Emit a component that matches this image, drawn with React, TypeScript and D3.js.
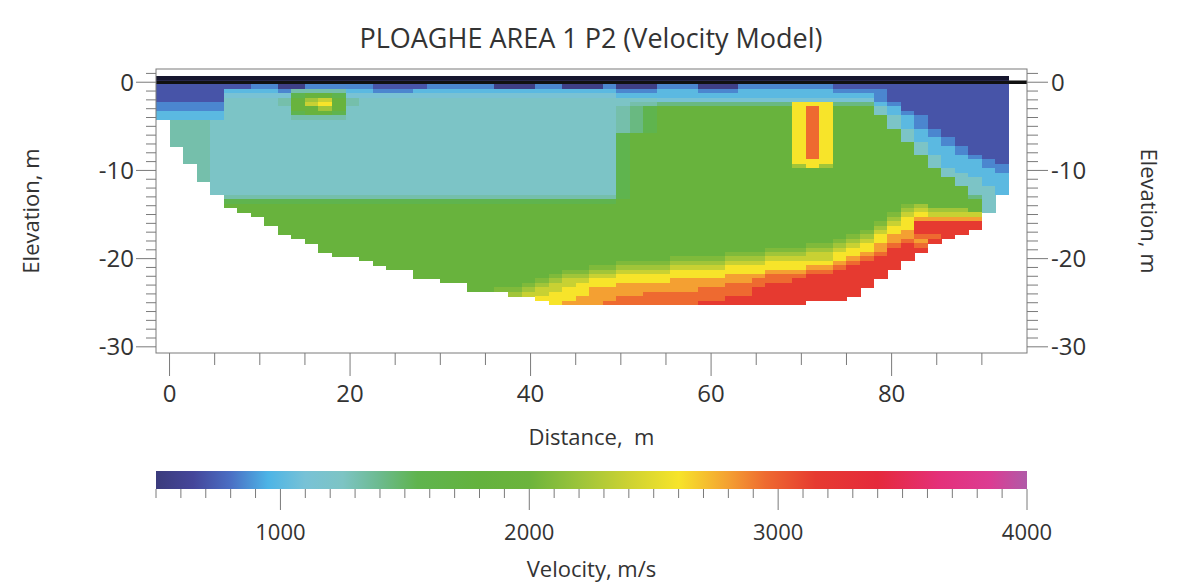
import React from 'react';
import * as d3 from 'd3';

// ---------------- data ----------------
const chartTitle = 'PLOAGHE AREA 1 P2 (Velocity Model)';
const distanceTicks = [0, 20, 40, 60, 80];
const elevationTicks = [0, -10, -20, -30];
const velocityTicks = [1000, 2000, 3000, 4000];

// colour scale of the velocity bar (m/s -> colour)
const colorStopVelocities = [300, 500, 650, 800, 950, 1100, 1250, 1400, 1550, 1800, 2000, 2200, 2400, 2600, 2800, 2950, 3150, 3400, 3650, 3850, 4000];
const colorStopColors = ['#16162e', '#3b3b7c', '#45469a', '#4a6fc4', '#4db4e6', '#78c2d6', '#7dc4c4', '#6cba8e', '#5fb44e', '#64b23e', '#6cb43c', '#9cc43a', '#cdd232', '#f7e42a', '#f4a032', '#ee6a30', '#e63a30', '#e52a3c', '#e4307a', '#dc3c92', '#b05aa8'];

// cell codes used in the model rows and their velocity (m/s)
const cellCodes = ['K', 'A', 'B', 'C', 'D', 'E', 'T', 'U', 'V', 'W', 'G', 'H', 'I', 'J', 'Y', 'O', 'P', 'R'];
const cellVelocities = [300, 550, 700, 850, 1000, 1120, 1230, 1320, 1430, 1550, 1900, 2080, 2220, 2380, 2600, 2800, 2950, 3150];

// model grid: columns of 1.5 m starting at -1.5 m, rows of 0.5 m starting at +0.75 m
const firstColumnDistance = -1.5;
const columnWidth = 1.5;
const topElevation = 0.75;
const rowHeight = 0.5;

// number of filled rows in each column (model bottom)
const cellsPerColumn = [
  10, 16, 20, 24, 27, 30, 31, 32, 34, 36, 37, 38, 40, 41, 41, 42, 43, 44, 44, 46,
  46, 47, 47, 49, 49, 49, 50, 50, 51,
  52, 52, 52, 52, 52, 52, 52, 52, 52, 52, 52, 52, 52, 52, 52, 52, 52, 52, 52,
  51, 51, 51, 50, 48, 46, 44, 42, 40, 38, 37, 36, 35, 31, 27,
];

// run-length coded velocity rows (count + code), top row first
const modelRows = [
  '63K',
  '63A',
  '7B 2C 2A 5C 4B 5C 3A 2C 3A 1C 3A 3C 3A 7C 13B',
  '5B 4D 1C 4U 2D 3C 15D 3C 3D 3C 7D 4C 9B',
  '5B 5E 1W 2G 1W 20E 19D 1C 9B',
  '5B 4T 1U 1G 1I 1J 1G 1U 22T 16E 1C 9B',
  '5C 4T 1U 1G 1J 1Y 1G 1U 20T 2U 10V 3Y 3V 1D 1C 8B',
  '5C 5T 2G 1I 1G 20T 1U 1V 1W 10G 1Y 1P 1Y 3G 1T 1D 8B',
  '5D 5T 1W 2G 1W 20T 1U 1V 1W 10G 1Y 1P 1Y 3G 1T 1D 1C 7B',
  '5D 5T 4U 20T 1U 1V 1W 10G 1Y 1P 1Y 4G 1T 1D 1C 6B',
  '4U 30T 1U 1V 1W 10G 1Y 1P 1Y 4G 1T 1D 1C 6B',
  '4U 30T 1U 1V 1W 10G 1Y 1P 1Y 4G 1T 1D 1C 6B',
  '4U 30T 1U 1V 1W 10G 1Y 1P 1Y 5G 1T 1D 1C 5B',
  '4U 30T 1W 12G 1Y 1P 1Y 5G 1T 1D 1C 5B',
  '4U 30T 1W 12G 1Y 1P 1Y 5G 1T 2D 1C 4B',
  '4U 30T 1W 12G 1Y 1P 1Y 6G 1T 1D 1C 4B',
  '4U 30T 1W 12G 1Y 1P 1Y 6G 1T 2D 1C 3B',
  '4U 30T 1W 12G 1Y 1P 1Y 6G 1T 2D 1C 3B',
  '4U 30T 1W 12G 1Y 1P 1Y 7G 1T 2D 1C 2B',
  '4U 30T 1W 12G 3Y 7G 1T 3D 1C 1B',
  '4U 30T 1W 12G 1I 1Y 1I 7G 1T 3D 2C',
  '4U 30T 1W 23G 1T 3D 1C',
  '4U 30T 1W 23G 2T 3D',
  '4U 30T 1W 24G 2T 2D',
  '4U 30T 1W 24G 2T 2D',
  '4U 30T 1W 25G 2T 1D',
  '4U 30T 1W 25G 2T 1D',
  '34U 1W 25G 1V 2T',
  '34W 27G 2T',
  '55G 1H 1I 4G 2T',
  '55G 1I 1J 3I 1G 2T',
  '54G 1H 1J 1Y 4J 2T',
  '54G 1I 1Y 5O 2T',
  '53G 1H 1J 1Y 5R 2G',
  '53G 1I 2Y 5R 2G',
  '52G 1H 1J 1Y 1O 5R 2G',
  '51G 1H 1I 1Y 2O 2P 1R 4G',
  '50G 1H 1I 1J 1Y 1O 1P 1O 1R 5G',
  '48G 2H 1I 1J 1Y 1O 1P 1R 1P 6G',
  '45G 3H 2I 1J 2Y 1O 3R 6G',
  '42G 3H 3I 2J 2Y 1O 1P 2R 7G',
  '38G 4H 3I 5J 1Y 1O 1P 3R 7G',
  '34G 4H 4I 3J 5Y 1O 1P 3R 8G',
  '32G 2H 4I 4J 6Y 2O 1P 4R 8G',
  '30G 2H 2I 4J 7Y 3O 2P 4R 9G',
  '29G 1H 2I 2J 8Y 3O 3P 6R 9G',
  '28G 1H 1I 2J 6Y 6O 3P 6R 10G',
  '27G 1H 1I 2J 3Y 8O 3P 8R 10G',
  '25G 2H 1I 2J 2Y 8O 4P 8R 11G',
  '26G 1I 2J 3Y 4O 8P 8R 11G',
  '28G 3Y 3O 8P 9R 12G',
  '29G 1Y 3O 7P 8R 15G',
];

// ground surface line (distance, elevation)
const surfaceDistance = [-1.5, 95];
const surfaceElevation = [0, 0];

// ---------------- helpers ----------------
function expandRow(spec: string): string {
  return spec
    .trim()
    .split(/\s+/)
    .map((tok) => {
      const m = tok.match(/^(\d+)([A-Z])$/);
      return m ? m[2].repeat(parseInt(m[1], 10)) : '';
    })
    .join('');
}

const FONT = "'Open Sans', 'DejaVu Sans', sans-serif";
const TEXT = '#333333';
const AXIS = '#7a7a7a';

export default function App() {
  const W = 1178;
  const H = 583;
  const plotL = 156, plotR = 1027, plotT = 69, plotB = 353;

  const x = d3.scaleLinear().domain([-1.5, 95]).range([plotL, plotR]);
  const y = d3.scaleLinear().domain([1.5, -30.7]).range([plotT, plotB]);
  const color = d3
    .scaleLinear<string>()
    .domain(colorStopVelocities)
    .range(colorStopColors)
    .interpolate(d3.interpolateRgb)
    .clamp(true);
  const cbScale = d3.scaleLinear().domain([500, 4000]).range([plotL, plotR]);

  const codeToVelocity = new Map<string, number>(cellCodes.map((c, i) => [c, cellVelocities[i]]));

  const cells: { key: string; x: number; y: number; w: number; h: number; fill: string }[] = [];
  modelRows.forEach((spec, r) => {
    const row = expandRow(spec);
    for (let c = 0; c < cellsPerColumn.length; c++) {
      if (r >= cellsPerColumn[c]) continue;
      const v = codeToVelocity.get(row[c]);
      if (v == null) continue;
      const d0 = firstColumnDistance + c * columnWidth;
      const d1 = d0 + columnWidth;
      const e0 = topElevation - r * rowHeight;
      const e1 = e0 - rowHeight;
      const x0 = x(d0), x1 = x(d1), y0 = y(e0), y1 = y(e1);
      cells.push({ key: `${r}-${c}`, x: x0, y: y0, w: x1 - x0 + 0.5, h: y1 - y0 + 0.5, fill: color(v) });
    }
  });

  const surfaceLine = d3
    .line<number>()
    .x((_, i) => x(surfaceDistance[i]))
    .y((_, i) => y(surfaceElevation[i]))(surfaceDistance);

  const yMinor = d3.range(-30, 2);
  const xMinor = d3.range(0, 91, 5);
  const vMinor = d3.range(500, 4001, 100);

  const gradStops = colorStopVelocities
    .map((v, i) => ({ v, c: colorStopColors[i] }))
    .filter((s) => s.v >= 500 && s.v <= 4000);

  const cbTop = 471, cbBot = 489;
  const yMid = (plotT + plotB) / 2;

  return (
    <svg
      width={W}
      height={H}
      viewBox={`0 0 ${W} ${H}`}
      style={{ position: 'absolute', left: 0, top: 0, background: '#fff' }}
      fontFamily={FONT}
    >
      <defs>
        <linearGradient id="vbar" x1="0" x2="1" y1="0" y2="0">
          {gradStops.map((s) => (
            <stop key={s.v} offset={(s.v - 500) / 3500} stopColor={s.c} />
          ))}
        </linearGradient>
      </defs>
      <rect x={0} y={0} width={W} height={H} fill="#ffffff" />

      {/* title */}
      <text x={591} y={48} textAnchor="middle" fontSize={27} fill={TEXT}>
        {chartTitle}
      </text>

      {/* model cells */}
      <g shapeRendering="crispEdges">
        {cells.map((c) => (
          <rect key={c.key} x={c.x} y={c.y} width={c.w} height={c.h} fill={c.fill} />
        ))}
      </g>

      {/* surface */}
      <path d={surfaceLine || ''} stroke="#111" strokeWidth={3.5} fill="none" />

      {/* frame */}
      <rect x={plotL} y={plotT} width={plotR - plotL} height={plotB - plotT} fill="none" stroke={AXIS} strokeWidth={1} />

      {/* left & right elevation ticks */}
      {yMinor.map((e) => {
        const major = e % 10 === 0;
        return (
          <g key={`yt${e}`} stroke={AXIS} strokeWidth={1}>
            <line x1={plotL - (major ? 20 : 10)} x2={plotL} y1={y(e)} y2={y(e)} />
            <line x1={plotR} x2={plotR + (major ? 21 : 11)} y1={y(e)} y2={y(e)} />
          </g>
        );
      })}
      {elevationTicks.map((e) => (
        <g key={`yl${e}`}>
          <text x={plotL - 22} y={y(e)} dy="0.36em" textAnchor="end" fontSize={24} fill={TEXT}>
            {e}
          </text>
          <text x={plotR + 24} y={y(e)} dy="0.36em" textAnchor="start" fontSize={24} fill={TEXT}>
            {e}
          </text>
        </g>
      ))}

      {/* distance ticks */}
      {xMinor.map((d) => {
        const major = d % 20 === 0;
        return <line key={`xt${d}`} x1={x(d)} x2={x(d)} y1={plotB} y2={plotB + (major ? 23 : 12)} stroke={AXIS} strokeWidth={1} />;
      })}
      {distanceTicks.map((d) => (
        <text key={`xl${d}`} x={x(d)} y={402} textAnchor="middle" fontSize={24} fill={TEXT}>
          {d}
        </text>
      ))}

      {/* axis titles */}
      <text x={(plotL + plotR) / 2} y={445} textAnchor="middle" fontSize={22} fill={TEXT} style={{ whiteSpace: 'pre' }}>
        {'Distance,  m'}
      </text>
      <text transform={`translate(31,${yMid}) rotate(-90)`} textAnchor="middle" dy="0.36em" fontSize={22} fill={TEXT}>
        Elevation, m
      </text>
      <text transform={`translate(1149,${yMid}) rotate(90)`} textAnchor="middle" dy="0.36em" fontSize={22} fill={TEXT}>
        Elevation, m
      </text>

      {/* colour bar */}
      <rect x={plotL} y={cbTop} width={plotR - plotL} height={cbBot - cbTop} fill="url(#vbar)" />
      {vMinor.map((v) => {
        const major = v % 1000 === 0;
        return <line key={`vt${v}`} x1={cbScale(v)} x2={cbScale(v)} y1={cbBot} y2={cbBot + (major ? 21 : 9)} stroke={AXIS} strokeWidth={1} />;
      })}
      {velocityTicks.map((v) => (
        <text key={`vl${v}`} x={cbScale(v)} y={540} textAnchor="middle" fontSize={22} fill={TEXT}>
          {v}
        </text>
      ))}
      <text x={(plotL + plotR) / 2} y={577} textAnchor="middle" fontSize={22} fill={TEXT}>
        Velocity, m/s
      </text>
    </svg>
  );
}
